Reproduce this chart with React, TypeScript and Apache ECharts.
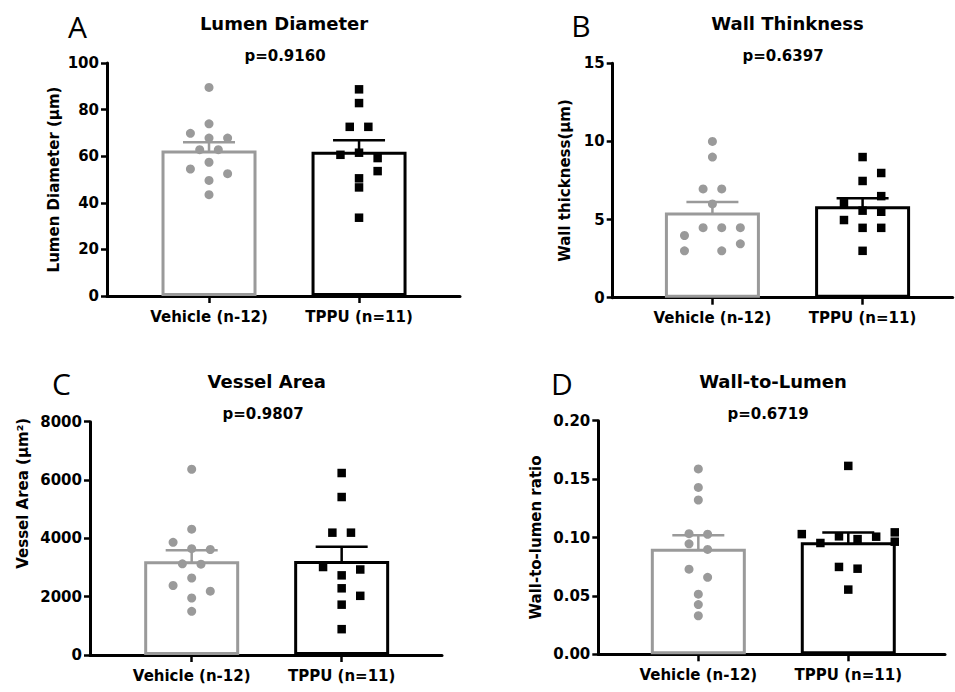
import React, { useEffect, useRef } from "react";
import * as echarts from "echarts";

// ---------- data ----------
const categories = ["Vehicle (n-12)", "TPPU (n=11)"];

// A: Lumen Diameter (µm)
const lumenVehicle = [89.5, 73.9, 69.8, 67.8, 67.8, 62.8, 62.8, 57.4, 54.5, 52.5, 49.6, 43.5];
const lumenVehicleCol = [0, 0, -2, 0, 2, -1, 1, 0, -2, 2, 0, 0];
const lumenTppu = [88.7, 82.8, 72.6, 72.6, 60.6, 61.5, 59.2, 53.6, 50.5, 46.6, 33.6];
const lumenTppuCol = [0, 0, -1, 1, -2, 0, 2, 2, 0, 0, 0];
const lumenMean = [62.5, 61.9];
const lumenSem = [3.45, 4.9];

// B: Wall thickness (µm)
const wallVehicle = [10.0, 9.0, 6.96, 6.96, 6.0, 4.48, 4.48, 4.48, 3.98, 3.45, 3.0, 3.0];
const wallVehicleCol = [0, 0, -1, 1, 0, -1, 1, 3, -3, 3, -3, 1];
const wallTppu = [9.0, 7.98, 7.47, 6.5, 6.04, 5.57, 5.5, 4.97, 4.47, 4.47, 3.0];
const wallTppuCol = [0, 2, 0, 2, -2, 0, 2, -2, 0, 2, 0];
const wallMean = [5.46, 5.86];
const wallSem = [0.66, 0.5];

// C: Vessel Area (µm²)
const areaVehicle = [6370, 4315, 3864, 3646, 3618, 3127, 3115, 2640, 2383, 2190, 1955, 1498];
const areaVehicleCol = [0, 0, -2, 0, 2, -1, 1, 0, -2, 2, 0, 0];
const areaTppu = [6240, 5417, 4195, 4195, 3017, 2932, 2731, 2287, 2029, 1726, 886];
const areaTppuCol = [0, 0, -1, 1, -2, 2, 0, 0, 2, 0, 0];
const areaMean = [3215, 3225];
const areaSem = [380, 490];

// D: Wall-to-lumen ratio
const ratioVehicle = [0.1587, 0.1429, 0.1321, 0.1033, 0.1028, 0.0946, 0.0898, 0.0729, 0.0659, 0.0515, 0.0426, 0.033];
const ratioVehicleCol = [0, 0, 0, -1, 1, -1, 1, -1, 1, 0, 0, 0];
const ratioTppu = [0.1613, 0.1029, 0.0953, 0.101, 0.0986, 0.1007, 0.1044, 0.0964, 0.0748, 0.0733, 0.0554];
const ratioTppuCol = [0, -5, -3, -1, 1, 3, 5, 5, -1, 1, 0];
const ratioMean = [0.0903, 0.0960];
const ratioSem = [0.0117, 0.0082];

const panelLetters = ["A", "B", "C", "D"];
const panelTitles = ["Lumen Diameter", "Wall Thinkness", "Vessel Area", "Wall-to-Lumen"];
const pValues = ["p=0.9160", "p=0.6397", "p=0.9807", "p=0.6719"];
const yNames = ["Lumen Diameter (\u03bcm)", "Wall thickness(\u03bcm)", "Vessel Area (\u03bcm\u00b2)", "Wall-to-lumen ratio"];
const yMax = [100, 15, 8000, 0.2];
const yInterval = [20, 5, 2000, 0.05];
const yDecimals = [0, 0, 0, 2];

// ---------- layout / style ----------
const GRAY = "#9a9a9a";
const BLACK = "#000000";
const FONT = "DejaVu Sans";
const STEP = 0.062;

const layout = [
  { left: 107, top: 63, width: 353, height: 233, xMin: -0.68, xMax: 1.673, nameGap: 46, namePad: 0,
    letter: [77.5, 26], title: [284, 23.5], p: [285, 56] },
  { left: 612.7, top: 63.3, width: 340, height: 234.4, xMin: -0.664, xMax: 1.6, nameGap: 40, namePad: 0,
    letter: [581, 25], title: [787.5, 23.5], p: [783, 56] },
  { left: 90, top: 421.7, width: 352, height: 233.3, xMin: -0.678, xMax: 1.669, nameGap: 60, namePad: 90,
    letter: [61.5, 383], title: [266.7, 381], p: [263, 413.5] },
  { left: 598.3, top: 420.7, width: 346.7, height: 233.6, xMin: -0.667, xMax: 1.645, nameGap: 55, namePad: 0,
    letter: [562, 383], title: [773, 381], p: [768, 413.5] },
];

const panels = [
  { v: lumenVehicle, vc: lumenVehicleCol, t: lumenTppu, tc: lumenTppuCol, mean: lumenMean, sem: lumenSem },
  { v: wallVehicle, vc: wallVehicleCol, t: wallTppu, tc: wallTppuCol, mean: wallMean, sem: wallSem },
  { v: areaVehicle, vc: areaVehicleCol, t: areaTppu, tc: areaTppuCol, mean: areaMean, sem: areaSem },
  { v: ratioVehicle, vc: ratioVehicleCol, t: ratioTppu, tc: ratioTppuCol, mean: ratioMean, sem: ratioSem },
];

function buildOption() {
  const grid: any[] = [];
  const xAxis: any[] = [];
  const yAxis: any[] = [];
  const series: any[] = [];
  const graphic: any[] = [];

  panels.forEach((p, i) => {
    const L = layout[i];
    grid.push({ left: L.left, top: L.top, width: L.width, height: L.height, containLabel: false, outerBoundsMode: "none" });
    xAxis.push({
      type: "value",
      gridIndex: i,
      min: L.xMin,
      max: L.xMax,
      splitLine: { show: false },
      axisLine: { show: true, onZero: false, lineStyle: { color: BLACK, width: 3 } },
      axisTick: { show: true, customValues: [0, 1], length: 7, lineStyle: { color: BLACK, width: 2.5 } },
      axisLabel: {
        show: true,
        customValues: [0, 1],
        formatter: (val: number) => categories[Math.round(val)] ?? "",
        margin: 13,
        color: BLACK,
        fontFamily: FONT,
        fontWeight: "bold",
        fontSize: 15,
      },
    });
    yAxis.push({
      type: "value",
      gridIndex: i,
      min: 0,
      max: yMax[i],
      interval: yInterval[i],
      name: yNames[i],
      nameLocation: "middle",
      nameGap: L.nameGap,
      nameTextStyle: {
        color: BLACK,
        fontFamily: FONT,
        fontWeight: "bold",
        fontSize: 15,
        padding: [0, 0, 0, L.namePad],
      },
      splitLine: { show: false },
      axisLine: { show: true, onZero: false, lineStyle: { color: BLACK, width: 3 } },
      axisTick: { show: true, length: 6, lineStyle: { color: BLACK, width: 2.5 } },
      axisLabel: {
        margin: 8,
        color: BLACK,
        fontFamily: FONT,
        fontWeight: "bold",
        fontSize: 15,
        formatter: (val: number) => val.toFixed(yDecimals[i]),
      },
    });

    series.push({
      type: "bar",
      xAxisIndex: i,
      yAxisIndex: i,
      barWidth: 95,
      silent: true,
      data: [
        { value: [0, p.mean[0]], itemStyle: { color: "#ffffff", borderColor: GRAY, borderWidth: 3 } },
        { value: [1, p.mean[1]], itemStyle: { color: "#ffffff", borderColor: BLACK, borderWidth: 3 } },
      ],
    });
    series.push({
      type: "scatter",
      xAxisIndex: i,
      yAxisIndex: i,
      symbol: "circle",
      symbolSize: 9,
      itemStyle: { color: GRAY, opacity: 1 },
      data: p.v.map((val, k) => [0 + p.vc[k] * STEP, val]),
    });
    series.push({
      type: "scatter",
      xAxisIndex: i,
      yAxisIndex: i,
      symbol: "rect",
      symbolSize: 8.5,
      itemStyle: { color: BLACK, opacity: 1 },
      data: p.t.map((val, k) => [1 + p.tc[k] * STEP, val]),
    });
    series.push({
      type: "custom",
      xAxisIndex: i,
      yAxisIndex: i,
      coordinateSystem: "cartesian2d",
      encode: { x: 0, y: 1 },
      data: [
        [0, p.mean[0], p.sem[0]],
        [1, p.mean[1], p.sem[1]],
      ],
      renderItem: (params: any, api: any) => {
        const x = api.value(0);
        const m = api.value(1);
        const s = api.value(2);
        const top = api.coord([x, m + s]);
        const bot = api.coord([x, m - s]);
        const color = x === 0 ? GRAY : BLACK;
        const hw = 26;
        const style = { stroke: color, lineWidth: 2.5 };
        return {
          type: "group",
          children: [
            { type: "line", shape: { x1: top[0], y1: top[1], x2: bot[0], y2: bot[1] }, style },
            { type: "line", shape: { x1: top[0] - hw, y1: top[1], x2: top[0] + hw, y2: top[1] }, style },
            { type: "line", shape: { x1: bot[0] - hw, y1: bot[1], x2: bot[0] + hw, y2: bot[1] }, style },
          ],
        };
      },
    });

    graphic.push({
      type: "text",
      x: L.letter[0],
      y: L.letter[1],
      style: {
        text: panelLetters[i],
        fill: BLACK,
        fontFamily: "Open Sans",
        fontSize: 30,
        fontWeight: "normal",
        align: "center",
        verticalAlign: "middle",
        textAlign: "center",
        textVerticalAlign: "middle",
      },
    });
    graphic.push({
      type: "text",
      x: L.title[0],
      y: L.title[1],
      style: {
        text: panelTitles[i],
        fill: BLACK,
        fontFamily: FONT,
        fontSize: 18,
        fontWeight: "bold",
        align: "center",
        verticalAlign: "middle",
        textAlign: "center",
        textVerticalAlign: "middle",
      },
    });
    graphic.push({
      type: "text",
      x: L.p[0],
      y: L.p[1],
      style: {
        text: pValues[i],
        fill: BLACK,
        fontFamily: FONT,
        fontSize: 15,
        fontWeight: "bold",
        align: "center",
        verticalAlign: "middle",
        textAlign: "center",
        textVerticalAlign: "middle",
      },
    });
  });

  return {
    animation: false,
    backgroundColor: "#ffffff",
    grid,
    xAxis,
    yAxis,
    series,
    graphic,
  };
}

export default function App() {
  const ref = useRef<HTMLDivElement>(null);
  useEffect(() => {
    document.body.style.margin = "0";
    if (!ref.current) return;
    const chart = echarts.init(ref.current, null, { renderer: "svg" });
    chart.setOption(buildOption() as any);
    return () => chart.dispose();
  }, []);
  return <div ref={ref} style={{ width: 955, height: 692 }} />;
}
